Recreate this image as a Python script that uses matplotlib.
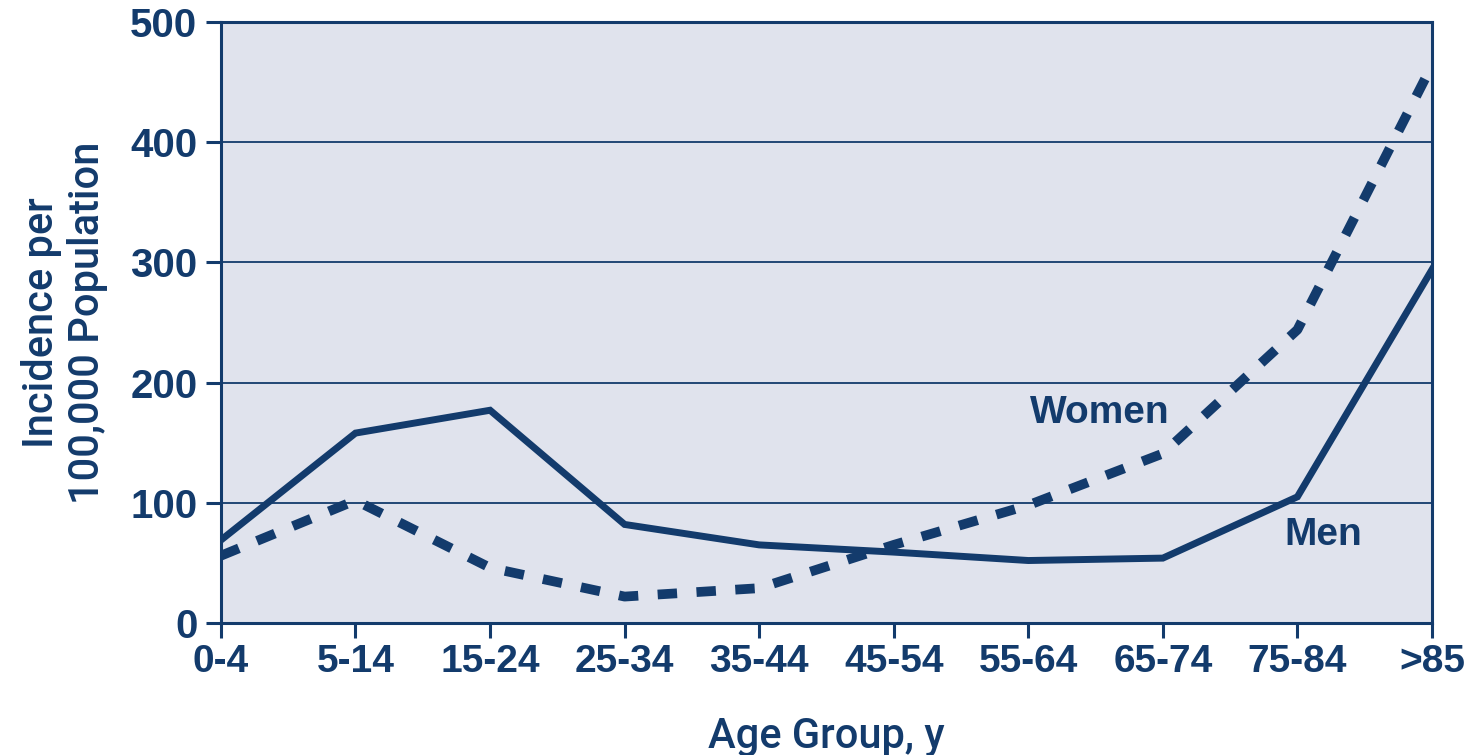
import matplotlib
matplotlib.use("Agg")
import matplotlib.pyplot as plt

# incidence per 100,000 by age group
age_groups = ["0-4", "5-14", "15-24", "25-34", "35-44", "45-54",
              "55-64", "65-74", "75-84", ">85"]
men = [69, 158, 177, 82, 65, 59, 52, 54, 105, 294]
women = [56, 102, 46, 22, 29, 65, 98, 141, 244, 464]
yticks = [0, 100, 200, 300, 400, 500]

navy = "#133b6c"
bg = "#e0e3ed"

plt.rcParams["font.family"] = ["Liberation Sans", "DejaVu Sans"]

fig = plt.figure(figsize=(14.69, 7.55), dpi=100)
ax = fig.add_axes([0.1504, 0.1748, 0.8244, 0.7961])
ax.set_facecolor(bg)

x = list(range(len(age_groups)))
ax.plot(x, men, color=navy, lw=5, solid_joinstyle="miter", zorder=3)
ax.plot(x, women, color=navy, lw=7, dashes=(2.0, 2.0),
        dash_capstyle="butt", zorder=3)

ax.set_xlim(0, len(age_groups) - 1)
ax.set_ylim(0, 500)
ax.set_xticks(x)
ax.set_xticklabels(age_groups)
ax.set_yticks(yticks)

for y in yticks[1:-1]:
    ax.axhline(y, color=navy, lw=1.3, zorder=1)

for s in ax.spines.values():
    s.set_color(navy)
    s.set_linewidth(2.2)

ax.tick_params(axis="both", direction="out", length=11, width=2.2,
               color=navy, labelcolor=navy, labelsize=28, pad=4)
ax.tick_params(axis="y", labelsize=29, pad=6)
for lab in ax.get_xticklabels() + ax.get_yticklabels():
    lab.set_fontweight("bold")

lab_font = dict(family=["Roboto", "Liberation Sans"], weight="medium",
                size=30, color=navy)
ax.set_xlabel("Age Group, y", labelpad=26, **lab_font)
ax.set_ylabel("Incidence per\n100,000 Population", labelpad=16,
              linespacing=1.15, **lab_font)

ax.text(6.53, 175, "Women", fontsize=28, fontweight="bold", color=navy,
        ha="center", va="center")
ax.text(8.19, 73, "Men", fontsize=28, fontweight="bold", color=navy,
        ha="center", va="center")

fig.savefig("out.png", dpi=100)
